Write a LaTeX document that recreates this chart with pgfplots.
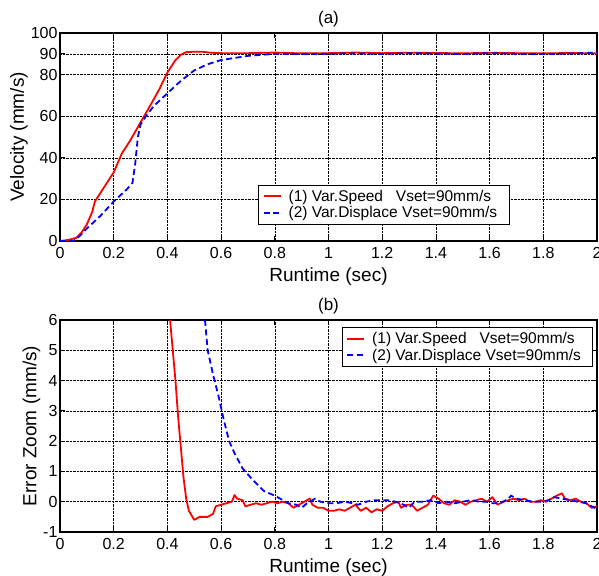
\documentclass[border=0pt]{standalone}
\usepackage{pgfplots}
\pgfplotsset{compat=1.18}
\usepackage{fontspec}
\setmainfont{Liberation Sans}

\pgfplotsset{
  matlab/.style={
    scale only axis,
    width=537pt,
    xmin=0, xmax=2,
    xtick={0,0.2,...,2},
    xticklabels={0,0.2,0.4,0.6,0.8,1,1.2,1.4,1.6,1.8,2},
    grid=major,
    major grid style={black, densely dotted, line width=0.6pt},
    axis line style={black, line width=1.5pt},
    tick style={black, line width=0.8pt},
    major tick length=5pt,
    tick align=inside,
    tick pos=both,
    /pgf/number format/assume math mode=true,
    tick label style={font=\fontsize{16}{16}\selectfont},
    xticklabel style={yshift=-3pt},
    yticklabel style={xshift=1pt},
    label style={font=\fontsize{19}{19}\selectfont},
    title style={font=\fontsize{17}{17}\selectfont, yshift=-4pt},
    xlabel={Runtime (sec)},
    xlabel style={yshift=-2pt},
    ylabel style={yshift=-4pt},
    legend cell align=left,
    legend style={font=\fontsize{15.5}{17}\selectfont, draw=black, line width=0.8pt,
      inner xsep=4pt, inner ysep=3pt, row sep=0pt},
    legend image post style={line width=2pt},
  },
  redl/.style={red, line width=1.8pt, line join=round},
  bluel/.style={blue, line width=1.8pt, dash pattern=on 6pt off 3.5pt},
}

\begin{document}
\begin{tikzpicture}
\useasboundingbox (0,0) rectangle (599pt,-575pt);

\begin{axis}[matlab,
  at={(60pt,-241pt)}, anchor=south west,
  height=208pt,
  ymin=0, ymax=100,
  ytick={0,20,40,60,80,90,100},
  ylabel={Velocity (mm/s)},
  title={(a)},
  legend style={at={(0.369,0.078)}, anchor=south west},
]
\addplot[redl] coordinates {
(0,0) (0.03,0.5) (0.06,1.5) (0.08,4) (0.1,8) (0.12,14) (0.13,19) (0.15,23)
(0.17,27) (0.2,33) (0.23,42) (0.26,48) (0.3,57) (0.34,66) (0.37,73) (0.4,81)
(0.43,87) (0.45,89.5) (0.47,90.8) (0.5,91) (0.53,91) (0.56,90.5) (0.6,90.3)
(0.7,90.3) (0.8,90.6) (0.9,90.2) (1.0,90.3) (1.1,90.6) (1.2,90.3) (1.3,90.5)
(1.4,90.4) (1.5,90.2) (1.6,90.5) (1.7,90.3) (1.8,90.2) (1.9,90.4) (2.0,90.2)
};
\addlegendentry{\hspace*{5pt}(1) Var.Speed\hspace{0.55em} Vset=90mm/s\hspace*{6pt}}
\addplot[bluel] coordinates {
(0,0) (0.05,0) (0.07,2) (0.1,6) (0.15,12) (0.2,19) (0.25,25) (0.27,28)
(0.28,37) (0.29,50) (0.3,56) (0.32,60) (0.35,65) (0.4,71) (0.45,77) (0.5,82)
(0.55,85) (0.6,87) (0.7,89) (0.8,90) (0.9,89.9) (1.0,90) (1.1,90.2) (1.2,89.9)
(1.3,90.3) (1.4,90.1) (1.5,89.9) (1.6,90.3) (1.7,90) (1.8,89.9) (1.9,90.1) (2.0,90.6)
};
\addlegendentry{\hspace*{5pt}(2) Var.Displace Vset=90mm/s\hspace*{6pt}}
\end{axis}

\begin{axis}[matlab,
  at={(60pt,-532pt)}, anchor=south west,
  height=212pt,
  ymin=-1, ymax=6,
  ytick={-1,0,...,6},
  ylabel={Error Zoom (mm/s)},
  title={(b)},
  legend style={at={(0.993,0.967)}, anchor=north east},
]
\addplot[redl] coordinates {
(0.41,6) (0.42,5) (0.43,4) (0.44,2.8) (0.45,1.8) (0.46,0.8) (0.47,0.1)
(0.48,-0.3) (0.5,-0.6) (0.52,-0.5) (0.55,-0.5) (0.57,-0.4) (0.58,-0.15)
(0.60,-0.1) (0.62,-0.05) (0.64,0.0) (0.65,0.22) (0.66,0.1) (0.68,0.05)
(0.69,-0.15) (0.71,-0.1) (0.73,-0.05) (0.75,-0.1) (0.77,-0.05) (0.79,0.0)
(0.81,-0.05) (0.83,0.0) (0.85,-0.05) (0.87,-0.2) (0.89,-0.1) (0.91,0.0)
(0.93,0.1) (0.94,-0.1) (0.96,-0.2) (0.98,-0.2) (1.0,-0.3) (1.02,-0.3)
(1.04,-0.25) (1.06,-0.3) (1.08,-0.2) (1.10,-0.1) (1.12,-0.3) (1.14,-0.2)
(1.16,-0.35) (1.18,-0.25) (1.20,-0.3) (1.22,-0.15) (1.24,-0.05) (1.26,0.0)
(1.27,-0.2) (1.29,-0.1) (1.31,-0.1) (1.33,-0.3) (1.35,-0.2) (1.37,-0.1)
(1.39,0.2) (1.41,0.1) (1.43,-0.05) (1.45,-0.1) (1.47,0.05) (1.49,0.0)
(1.51,-0.1) (1.53,0.0) (1.55,0.05) (1.57,0.1) (1.59,0.0) (1.61,0.15)
(1.63,-0.1) (1.65,0.0) (1.67,0.05) (1.69,0.1) (1.71,0.05) (1.73,0.1)
(1.75,0.0) (1.77,0.0) (1.79,0.05) (1.81,0.0) (1.83,0.1) (1.85,0.2)
(1.87,0.28) (1.88,0.1) (1.90,0.05) (1.92,0.1) (1.94,0.0) (1.96,-0.05)
(1.98,-0.2) (2.0,-0.15)
};
\addlegendentry{\hspace*{5pt}(1) Var.Speed\hspace{0.55em} Vset=90mm/s\hspace*{6pt}}
\addplot[bluel] coordinates {
(0.54,6) (0.55,5) (0.57,4.2) (0.59,3.5) (0.61,2.7) (0.63,2.0) (0.65,1.6)
(0.68,1.1) (0.72,0.7) (0.76,0.35) (0.8,0.2) (0.83,0.05) (0.85,-0.05)
(0.88,-0.1) (0.9,-0.2) (0.92,-0.05) (0.95,0.1) (0.97,0.0) (1.0,-0.05)
(1.03,-0.05) (1.06,0.0) (1.09,-0.05) (1.11,-0.1) (1.14,0.0) (1.17,0.05)
(1.2,0.05) (1.22,0.05) (1.25,0.0) (1.28,-0.1) (1.3,-0.2) (1.32,0.0)
(1.35,0.0) (1.38,0.05) (1.41,-0.05) (1.44,0.0) (1.47,-0.05) (1.5,0.0)
(1.53,0.05) (1.56,0.0) (1.59,0.0) (1.61,-0.05) (1.64,-0.05) (1.67,0.1)
(1.68,0.2) (1.7,0.1) (1.73,0.05) (1.76,0.0) (1.79,0.0) (1.82,0.05)
(1.84,0.15) (1.87,0.1) (1.9,0.05) (1.93,0.0) (1.96,-0.05) (1.99,-0.2) (2.0,-0.15)
};
\addlegendentry{\hspace*{5pt}(2) Var.Displace Vset=90mm/s\hspace*{6pt}}
\end{axis}
\end{tikzpicture}
\end{document}
